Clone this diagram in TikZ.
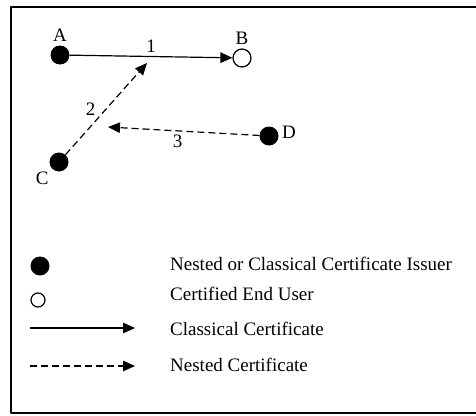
\documentclass[tikz,border=0pt]{standalone}
\usepackage{fontspec}
\setmainfont{Liberation Serif}
\usetikzlibrary{arrows.meta}
\begin{document}
\begin{tikzpicture}[x=1pt,y=-1pt, line join=round,
  every node/.style={font=\fontsize{19}{22}\selectfont},
  issuer/.style={circle,fill=black,inner sep=0pt,minimum size=19pt},
  enduser/.style={circle,draw=black,line width=1.2pt,inner sep=0pt,minimum size=18pt},
  classic/.style={line width=1.2pt,-{Triangle[length=12pt,width=10.5pt]}},
  nested/.style={classic,dash pattern=on 7pt off 4pt}]
\useasboundingbox (0,0) rectangle (476,415);
\draw[line width=1.5pt] (490,7)--(11,7)--(11,413)--(490,413);
\node[issuer,label=above:A] (A) at (60,55) {};
\node[enduser,label=above:B] (B) at (242,58) {};
\node[issuer,label=below left:C] (C) at (59,162) {};
\node[issuer,label={[yshift=4pt]right:D}] (D) at (269,136) {};
\coordinate (T2) at (147,63);
\coordinate (T3) at (108,127);
\draw[classic] (A)--(B) node[midway,above] {1};
\draw[nested] (C)--(T2) node[midway,left=7pt] {2};
\draw[nested] (D)--(T3) node[pos=0.54,below] {3};
\node[issuer] (LI) at (40,266) {};
\node[enduser,minimum size=14pt] (LU) at (38,300) {};
\coordinate (LCa) at (30,328); \coordinate (LCb) at (135,328);
\coordinate (LNa) at (30,366); \coordinate (LNb) at (135,366);
\draw[classic] (LCa)--(LCb);
\draw[nested] (LNa)--(LNb);
\node[anchor=west,inner sep=0pt] (tI) at (170,264) {Nested or Classical Certificate Issuer};
\node[anchor=west,inner sep=0pt] (tU) at (170,294) {Certified End User};
\node[anchor=west,inner sep=0pt] (tC) at (170,329) {Classical Certificate};
\node[anchor=west,inner sep=0pt] (tN) at (170,365) {Nested Certificate};
\end{tikzpicture}
\end{document}
